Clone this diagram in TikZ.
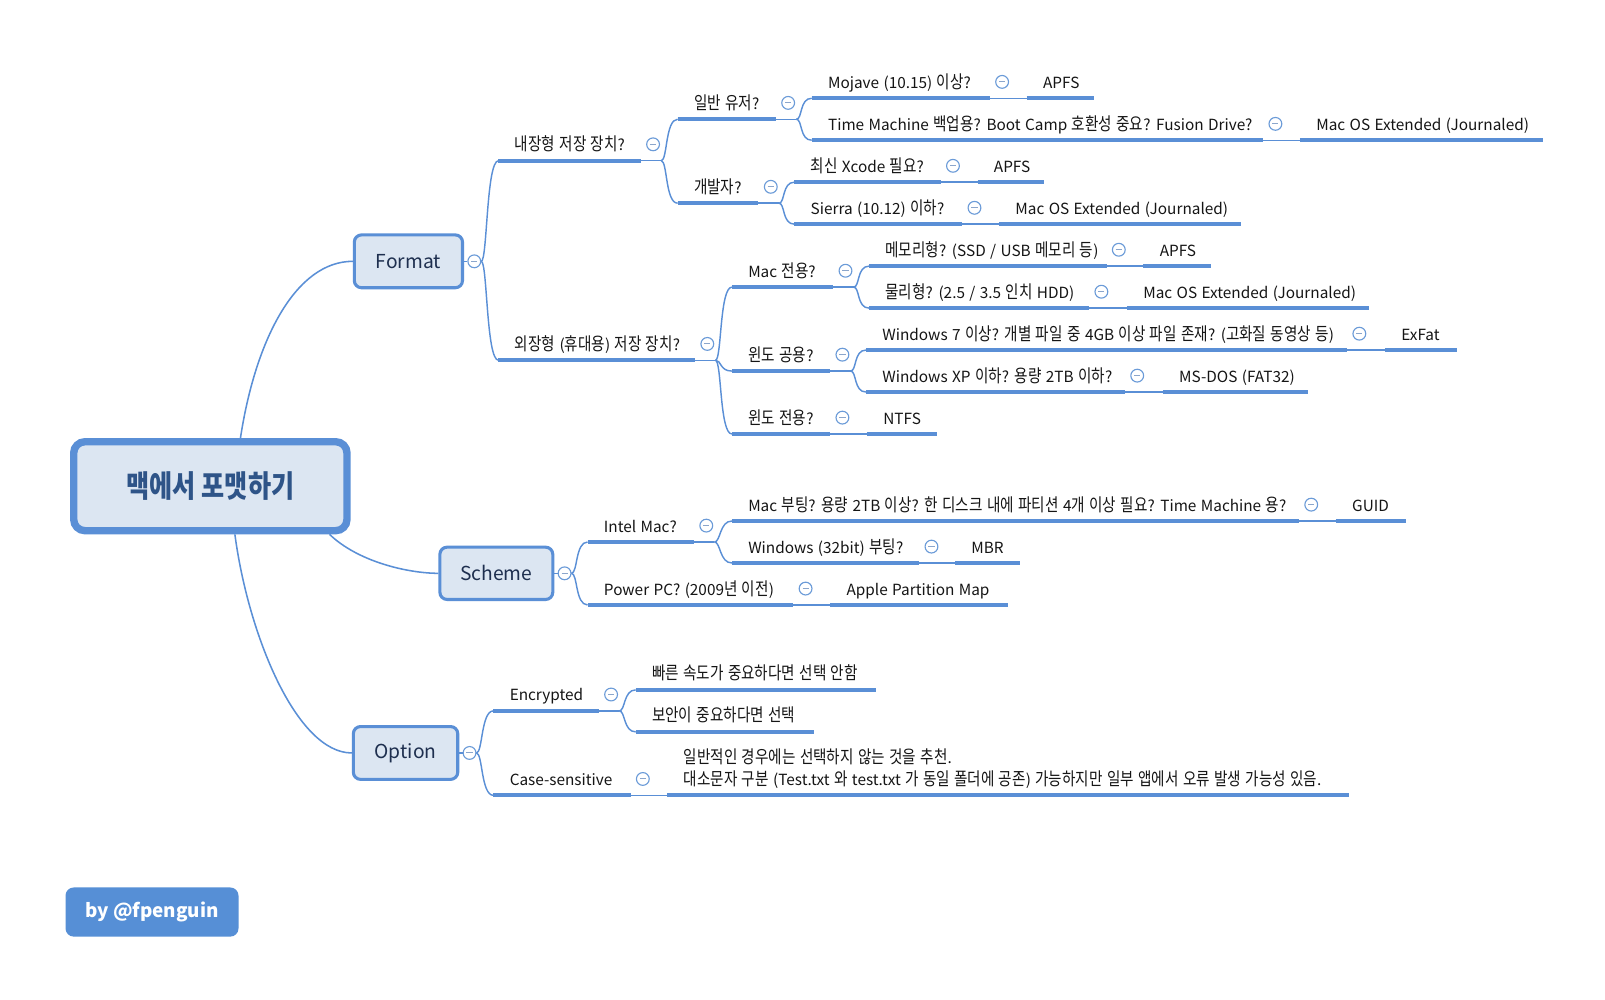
\documentclass[tikz,border=0pt]{standalone}
\usepackage{fontspec}
\setmainfont{Noto Sans CJK KR}
\newfontfamily\kofont{Noto Sans CJK KR}[Scale=1.16,FakeStretch=0.82]
\usetikzlibrary{calc}
\XeTeXinterchartokenstate=1
\makeatletter
\count@="AC00
\loop
  \XeTeXcharclass\count@=250
  \ifnum\count@<"D7A3 \advance\count@ by 1 \repeat
\@tempcnta=0
\loop
  \XeTeXinterchartoks\@tempcnta 250 = {\kofont}%
  \XeTeXinterchartoks 250 \@tempcnta = {\rmfamily}%
  \ifnum\@tempcnta<20 \advance\@tempcnta by 1 \repeat
\XeTeXinterchartoks 4095 250 = {\kofont}
\XeTeXinterchartoks 250 4095 = {\rmfamily}
\makeatother
\definecolor{lineblue}{HTML}{5A8FD6}
\definecolor{boxfill}{HTML}{DCE6F2}
\definecolor{boxtext}{HTML}{1E2F4F}
\definecolor{titletext}{HTML}{2E5488}
\definecolor{minusgray}{HTML}{8BA6CC}
\definecolor{circblue}{HTML}{6B9BD8}
\definecolor{tagblue}{HTML}{568FD6}
\definecolor{topictext}{HTML}{151515}
\newcommand\topicsize{\fontsize{15pt}{18pt}\selectfont\spaceskip=4.3pt plus 1pt minus 1pt\relax}
\newcommand\boxsize{\fontsize{18.8pt}{23pt}\selectfont}
\newcommand\titlesize{\fontsize{25.8pt}{31pt}\selectfont\bfseries}
\newcommand\tagsize{\fontsize{18.4pt}{22pt}\selectfont\bfseries}
\tikzset{
  topicbar/.style={draw=lineblue, line width=4pt},
  thinlink/.style={draw=lineblue, line width=1.4pt},
  rootlink/.style={draw=lineblue, line width=1.5pt},
  topic/.style={anchor=south west, inner xsep=16pt, inner ysep=0pt, outer sep=0pt,
    text depth=9.7pt, font=\topicsize, text=topictext},
  collapse/.style={circle, draw=circblue, fill=white, line width=1.1pt,
    minimum size=12.5pt, inner sep=0pt,
    path picture={\draw[minusgray, line width=1pt]
      ([xshift=-3pt]path picture bounding box.center) --
      ([xshift=3pt]path picture bounding box.center);}},
  subbox/.style={draw=lineblue, fill=boxfill, line width=3pt, rounded corners=7pt,
    font=\boxsize, text=boxtext, inner sep=0pt},
  mainbox/.style={draw=lineblue, fill=boxfill, line width=7.2pt, rounded corners=11pt,
    font=\titlesize, text=titletext, inner sep=0pt,
    minimum width=267pt, minimum height=86.9pt},
  tagbox/.style={fill=tagblue, rounded corners=8pt, font=\tagsize, text=white,
    inner sep=0pt, minimum width=169pt, minimum height=48pt}
}
\newcommand\topicnode[5]{%
  \pgfmathsetmacro\tw{#4-#2-32}%
  \node[topic] (#1) at (#2,#3) {\makebox[\tw pt][l]{#5}};%
  \draw[topicbar] (#1.south west) -- (#1.south east);%
}
\newcommand\branchfrom[2]{%
  \node[collapse] (c-#1) at ($(#1.south east)+(12,-16)$) {};%
  \coordinate (j-#1) at ($(#1.south east)+(20,0)$);%
  \draw[thinlink] (#1.south east) -- (j-#1);%
  \foreach \ch in {#2} {\draw[thinlink] (j-#1) .. controls +(6,0) and +(-12,0) .. (\ch.south west);}%
}
\newcommand\boxbranch[2]{%
  \node[collapse] (c-#1) at ($(#1.east)+(10,0)$) {};%
  \draw[thinlink] (#1.east) -- (c-#1.west);%
  \foreach \ch in {#2} {\draw[thinlink] (c-#1.east) .. controls +(6,0) and +(-12,0) .. (\ch.south west);}%
}
\begin{document}
\begin{tikzpicture}[x=1pt,y=-1pt]
\fill[white] (0,0) rectangle (1568,976);
\useasboundingbox (0,0) rectangle (1568,976);

% central and main topics
\node[mainbox] (main) at (205.5,475) {맥에서 포맷하기};
\node[subbox, minimum width=105.7pt, minimum height=51.6pt] (fmt) at (399,255.3) {Format};
\node[subbox, minimum width=110.3pt, minimum height=51.1pt] (sch) at (484.9,560.1) {Scheme};
\node[subbox, minimum width=102pt, minimum height=51.6pt] (opt) at (396.2,735.6) {Option};

\draw[rootlink] (main.58) .. controls +(15,-98) and +(-55,0) .. (fmt.west);
\draw[rootlink] (main.-22) .. controls +(28,27) and +(-29,0) .. (sch.west);
\draw[rootlink] (main.-63) .. controls +(13,98) and +(-54,0) .. (opt.west);

% Format subtree
\topicnode{n1}{487}{157}{626}{내장형 저장 장치?}
\topicnode{n2}{487}{352}{679}{외장형 (휴대용) 저장 장치?}
\topicnode{n11}{662}{116.5}{758}{일반 유저?}
\topicnode{n12}{662}{198.5}{741}{개발자?}
\topicnode{n111}{793}{96}{967}{Mojave (10.15) 이상?}
\topicnode{n1111}{1003}{96}{1069}{APFS}
\topicnode{n112}{793}{137}{1234}{Time Machine 백업용? Boot Camp 호환성 중요? Fusion Drive?}
\topicnode{n1121}{1270}{137}{1507}{Mac OS Extended (Journaled)}
\topicnode{n121}{776}{178}{919}{최신 Xcode 필요?}
\topicnode{n1211}{955}{178}{1020}{APFS}
\topicnode{n122}{776}{219}{940}{Sierra (10.12) 이하?}
\topicnode{n1221}{976}{219}{1212}{Mac OS Extended (Journaled)}
\topicnode{n21}{715}{280.5}{814}{Mac 전용?}
\topicnode{n22}{715}{362.5}{811}{윈도 공용?}
\topicnode{n23}{715}{424}{811}{윈도 전용?}
\topicnode{n231}{847}{424}{915}{NTFS}
\topicnode{n211}{849}{260}{1081}{메모리형? (SSD / USB 메모리 등)}
\topicnode{n2111}{1117}{260}{1183}{APFS}
\topicnode{n212}{849}{301}{1064}{물리형? (2.5 / 3.5 인치 HDD)}
\topicnode{n2121}{1101}{301}{1337}{Mac OS Extended (Journaled)}
\topicnode{n221}{846}{342}{1316}{Windows 7 이상? 개별 파일 중 4GB 이상 파일 존재? (고화질 동영상 등)}
\topicnode{n2211}{1353}{342}{1423}{ExFat}
\topicnode{n222}{846}{383}{1099}{Windows XP 이하? 용량 2TB 이하?}
\topicnode{n2221}{1136}{383}{1278}{MS-DOS (FAT32)}

% Scheme subtree
\topicnode{s1}{574}{529.5}{678}{Intel Mac?}
\topicnode{s2}{574}{591}{775}{Power PC? (2009년 이전)}
\topicnode{s21}{811}{591}{985}{Apple Partition Map}
\topicnode{s11}{715}{509}{1269}{Mac 부팅? 용량 2TB 이상? 한 디스크 내에 파티션 4개 이상 필요? Time Machine 용?}
\topicnode{s111}{1305}{509}{1374}{GUID}
\topicnode{s12}{715}{550}{898}{Windows (32bit) 부팅?}
\topicnode{s121}{933}{550}{996}{MBR}

% Option subtree
\topicnode{o1}{482}{694.5}{585}{Encrypted}
\topicnode{o2}{482}{777}{616}{Case-sensitive}
\topicnode{o11}{621}{674}{856}{빠른 속도가 중요하다면 선택 안함}
\topicnode{o12}{621}{715}{795}{보안이 중요하다면 선택}
\topicnode{o21}{652}{777}{1318}{\vbox{\baselineskip=21pt\lineskiplimit=-30pt
  \hbox{일반적인 경우에는 선택하지 않는 것을 추천.}
  \hbox{대소문자 구분 (Test.txt 와 test.txt 가 동일 폴더에 공존) 가능하지만 일부 앱에서 오류 발생 가능성 있음.}}}

% connectors
\boxbranch{fmt}{n1,n2}
\boxbranch{sch}{s1,s2}
\boxbranch{opt}{o1,o2}
\branchfrom{n1}{n11,n12}
\branchfrom{n11}{n111,n112}
\branchfrom{n12}{n121,n122}
\branchfrom{n111}{n1111}
\branchfrom{n112}{n1121}
\branchfrom{n121}{n1211}
\branchfrom{n122}{n1221}
\branchfrom{n2}{n21,n22,n23}
\branchfrom{n21}{n211,n212}
\branchfrom{n22}{n221,n222}
\branchfrom{n23}{n231}
\branchfrom{n211}{n2111}
\branchfrom{n212}{n2121}
\branchfrom{n221}{n2211}
\branchfrom{n222}{n2221}
\branchfrom{s1}{s11,s12}
\branchfrom{s2}{s21}
\branchfrom{s11}{s111}
\branchfrom{s12}{s121}
\branchfrom{o1}{o11,o12}
\branchfrom{o2}{o21}

% credit tag
\node[tagbox] (credit) at (148.5,891) {by @fpenguin};
\end{tikzpicture}
\end{document}
